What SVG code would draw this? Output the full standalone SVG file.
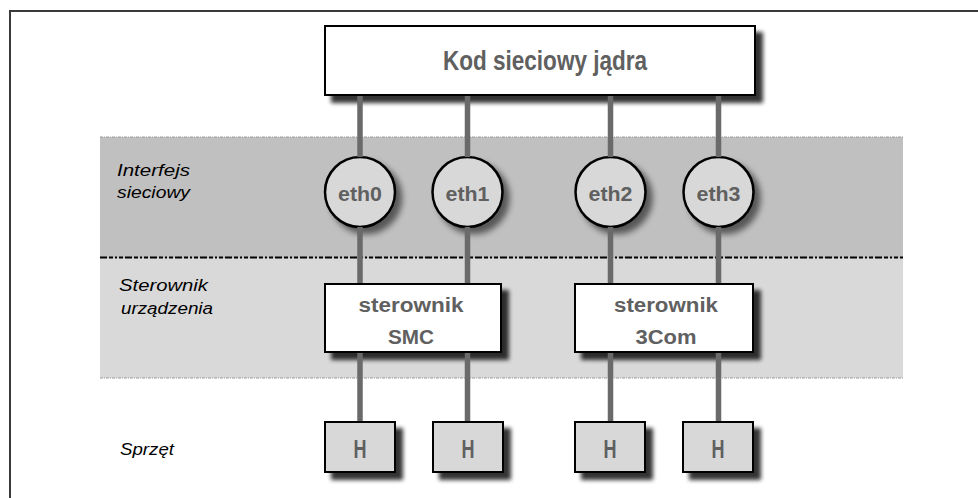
<svg xmlns="http://www.w3.org/2000/svg" width="978" height="498" viewBox="0 0 978 498">
  <style>
    .frame { stroke: #3a3a3a; stroke-width: 2; fill: none; }
    .band-dark { fill: #c0c0c0; }
    .band-light { fill: #d9d9d9; }
    .edge-faint { stroke: #9a9a9a; stroke-width: 1; stroke-dasharray: 3 1 1 1; fill: none; }
    .edge-dash { stroke: #000; stroke-width: 2; stroke-dasharray: 7 2 4 2 2 2 4 2; fill: none; }
    .box { fill: #ffffff; stroke: #000; stroke-width: 2; }
    .hw { fill: #d8d8d8; stroke: #000; stroke-width: 2; }
    .port { fill: #d8d8d8; stroke: #000; stroke-width: 2.5; }
    .wire { stroke: #6a6a6a; stroke-width: 5.5; fill: none; }
    .label { font-family: "Liberation Sans", Arial, sans-serif; font-style: italic; font-size: 16px; fill: #000; }
    .name { font-family: "Liberation Sans", Arial, sans-serif; font-weight: bold; fill: #606060; text-anchor: middle; }
  </style>
  <defs>
    <filter id="shadow" x="-20%" y="-20%" width="160%" height="170%">
      <feGaussianBlur in="SourceAlpha" stdDeviation="2.2"/>
      <feOffset dx="7" dy="7" result="off"/>
      <feComponentTransfer><feFuncA type="linear" slope="0.8"/></feComponentTransfer>
      <feMerge><feMergeNode/><feMergeNode in="SourceGraphic"/></feMerge>
    </filter>
    <filter id="shadow-soft" x="-30%" y="-30%" width="180%" height="180%">
      <feGaussianBlur in="SourceAlpha" stdDeviation="3"/>
      <feOffset dx="6" dy="6"/>
      <feComponentTransfer><feFuncA type="linear" slope="0.55"/></feComponentTransfer>
      <feMerge><feMergeNode/><feMergeNode in="SourceGraphic"/></feMerge>
    </filter>
  </defs>

  <!-- outer frame (top and left edges) -->
  <path class="frame" d="M10 498 V11 H978"/>

  <!-- layer bands -->
  <g id="layers">
    <rect class="band-dark" x="100" y="137" width="803" height="121"/>
    <rect class="band-light" x="100" y="258" width="803" height="120"/>
    <line class="edge-faint" x1="100" y1="137" x2="903" y2="137"/>
    <line class="edge-dash" x1="100" y1="257.5" x2="903" y2="257.5"/>
    <line class="edge-faint" x1="100" y1="378" x2="903" y2="378"/>
  </g>

  <!-- layer labels -->
  <g id="layer-labels">
    <text class="label" x="117" y="176" textLength="73" lengthAdjust="spacingAndGlyphs">Interfejs</text>
    <text class="label" x="117" y="198" textLength="73" lengthAdjust="spacingAndGlyphs">sieciowy</text>
    <text class="label" x="119" y="291" textLength="89" lengthAdjust="spacingAndGlyphs">Sterownik</text>
    <text class="label" x="121" y="314" textLength="92" lengthAdjust="spacingAndGlyphs">urządzenia</text>
    <text class="label" x="120" y="455" textLength="54" lengthAdjust="spacingAndGlyphs">Sprzęt</text>
  </g>

  <!-- kernel network code -->
  <g id="kernel">
    <rect class="box" x="325" y="26" width="430" height="69" filter="url(#shadow)"/>
    <text class="name" x="545" y="70" font-size="28" textLength="204" lengthAdjust="spacingAndGlyphs">Kod sieciowy jądra</text>
  </g>

  <!-- network interfaces -->
  <g id="eth0">
    <circle class="port" cx="360" cy="192" r="35" filter="url(#shadow-soft)"/>
    <text class="name" x="360" y="201" font-size="21" textLength="44" lengthAdjust="spacingAndGlyphs">eth0</text>
  </g>
  <g id="eth1">
    <circle class="port" cx="467.5" cy="192" r="35" filter="url(#shadow-soft)"/>
    <text class="name" x="467.5" y="201" font-size="21" textLength="44" lengthAdjust="spacingAndGlyphs">eth1</text>
  </g>
  <g id="eth2">
    <circle class="port" cx="610.5" cy="192" r="35" filter="url(#shadow-soft)"/>
    <text class="name" x="610.5" y="201" font-size="21" textLength="44" lengthAdjust="spacingAndGlyphs">eth2</text>
  </g>
  <g id="eth3">
    <circle class="port" cx="718.5" cy="192" r="35" filter="url(#shadow-soft)"/>
    <text class="name" x="718.5" y="201" font-size="21" textLength="44" lengthAdjust="spacingAndGlyphs">eth3</text>
  </g>

  <!-- device drivers -->
  <g id="driver-smc">
    <rect class="box" x="325" y="284" width="176" height="68" filter="url(#shadow)"/>
    <text class="name" x="411" y="312" font-size="20" textLength="105" lengthAdjust="spacingAndGlyphs">sterownik</text>
    <text class="name" x="411" y="344" font-size="20" textLength="46" lengthAdjust="spacingAndGlyphs">SMC</text>
  </g>
  <g id="driver-3com">
    <rect class="box" x="575" y="284" width="178" height="68" filter="url(#shadow)"/>
    <text class="name" x="666" y="312" font-size="20" textLength="104" lengthAdjust="spacingAndGlyphs">sterownik</text>
    <text class="name" x="666" y="344" font-size="20" textLength="61" lengthAdjust="spacingAndGlyphs">3Com</text>
  </g>

  <!-- hardware -->
  <g id="hw0">
    <rect class="hw" x="325" y="422" width="70" height="50" filter="url(#shadow)"/>
    <text class="name" x="360" y="458" font-size="26" textLength="13" lengthAdjust="spacingAndGlyphs">H</text>
  </g>
  <g id="hw1">
    <rect class="hw" x="433" y="422" width="70" height="50" filter="url(#shadow)"/>
    <text class="name" x="468" y="458" font-size="26" textLength="13" lengthAdjust="spacingAndGlyphs">H</text>
  </g>
  <g id="hw2">
    <rect class="hw" x="575" y="422" width="70" height="50" filter="url(#shadow)"/>
    <text class="name" x="610" y="458" font-size="26" textLength="13" lengthAdjust="spacingAndGlyphs">H</text>
  </g>
  <g id="hw3">
    <rect class="hw" x="683" y="422" width="70" height="50" filter="url(#shadow)"/>
    <text class="name" x="718" y="458" font-size="26" textLength="13" lengthAdjust="spacingAndGlyphs">H</text>
  </g>

  <!-- connectors: drawn between node edges, over the drop shadows -->
  <g id="connectors" class="wire">
    <path d="M360 96 V157 M360 227 V283 M360 353 V421"/>
    <path d="M467.5 96 V157 M467.5 227 V283 M467.5 353 V421"/>
    <path d="M610.5 96 V157 M610.5 227 V283 M610.5 353 V421"/>
    <path d="M718.5 96 V157 M718.5 227 V283 M718.5 353 V421"/>
  </g>
</svg>
